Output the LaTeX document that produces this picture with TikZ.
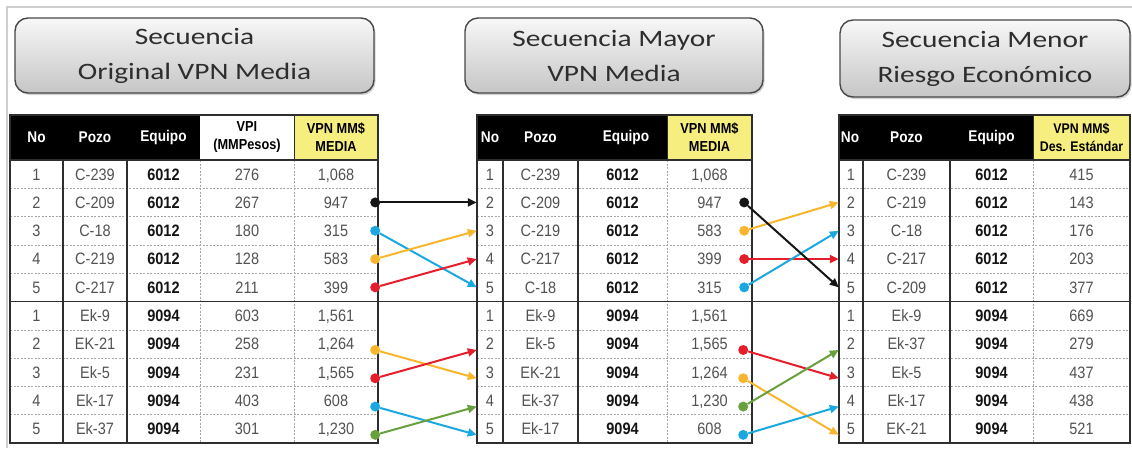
\documentclass[tikz,border=0pt]{standalone}
\usepackage{fontspec}
\setmainfont{Liberation Sans}
\newfontfamily\titlefont[FakeStretch=1.25]{Carlito}
\newfontfamily\datafont[FakeStretch=0.88]{Liberation Sans}
\usetikzlibrary{arrows.meta,calc,shadows}
\definecolor{cyanC}{HTML}{1BA8E0}
\definecolor{orangeC}{HTML}{F8B62C}
\definecolor{redC}{HTML}{E41E2B}
\definecolor{greenC}{HTML}{68A03E}
\definecolor{blackC}{HTML}{151515}
\definecolor{yellowH}{HTML}{F7EE80}
\definecolor{framegray}{HTML}{CFCFCF}
\tikzset{
  titlebox/.style={draw=black!72, line width=1.4pt, rounded corners=13pt,
    top color=gray!6, bottom color=gray!45,
    drop shadow={shadow xshift=1.5pt,shadow yshift=-2pt,opacity=0.35},
    font=\titlefont\fontsize{23.5}{35}\selectfont, text=black!82, align=center, inner sep=0pt},
  dat/.style={inner sep=0pt, minimum height=28.3pt, text height=11.8pt, text depth=0pt,
    font=\datafont\fontsize{16.5}{18}\selectfont, text=black!68},
  datb/.style={dat, font=\datafont\fontsize{16.5}{18}\selectfont\bfseries, text=black!92},
  hw/.style={inner sep=0pt, font=\datafont\fontsize{15.5}{17}\selectfont\bfseries, text=white},
  hb/.style={inner sep=0pt, align=center, font=\datafont\fontsize{14.5}{18}\selectfont\bfseries, text=black},
  tline/.style={line width=1.6pt, draw=black!82},
  dline/.style={line width=0.6pt, draw=black!35, dash pattern=on 2pt off 1.5pt},
  conn/.style={line width=2pt, draw=#1, -{Triangle[length=9pt,width=8pt,fill=#1]}},
  dotn/.style={circle, fill=#1, draw=none, inner sep=0pt, minimum size=10pt}
}
\begin{document}
\begin{tikzpicture}[x=1pt,y=-1pt]
\useasboundingbox (0,0) rectangle (1132,448);
% outer frame
\draw[framegray, line width=1.5pt] (7,448) -- (7,7) -- (1132,7);

% titles
\node[titlebox, minimum width=359pt, minimum height=75pt] (T1) at (194.5,55.5) {Secuencia\\Original VPN Media};
\node[titlebox, minimum width=298pt, minimum height=75pt] (T2) at (614,55.5) {Secuencia Mayor\\VPN Media};
\node[titlebox, minimum width=290pt, minimum height=77pt] (T3) at (985,58.5) {Secuencia Menor\\Riesgo Económico};

% ---------- header fills
\fill[black] (10,115) rectangle (200,160);
\fill[yellowH] (294,115) rectangle (378,160);
\fill[black] (477,115) rectangle (667,160);
\fill[yellowH] (667,115) rectangle (752,160);
\fill[black] (839,115) rectangle (1033,160);
\fill[yellowH] (1033,115) rectangle (1130,160);

% ---------- dashed grid
\foreach \k in {1,2,3,4,6,7,8,9}{
  \pgfmathsetmacro\yy{160+28.3*\k}
  \draw[dline] (10,\yy) -- (378,\yy);
  \draw[dline] (477,\yy) -- (752,\yy);
  \draw[dline] (839,\yy) -- (1130,\yy);
}
\draw[dline] (200,160) -- (200,443);
\draw[dline] (294,160) -- (294,443);
\draw[dline] (667,160) -- (667,443);
\draw[dline] (1033,160) -- (1033,443);

% ---------- solid lines
\draw[line width=1pt, draw=black!82] (294,115) -- (294,160);
\draw[line width=1pt, draw=black!82] (667,115) -- (667,160);
\draw[line width=1pt, draw=black!82] (1033,115) -- (1033,160);
\foreach \xx in {63,127,503,578,863,950}{
  \draw[tline] (\xx,160) -- (\xx,443);
}
\draw[tline] (10,160) -- (378,160);
\draw[tline] (477,160) -- (752,160);
\draw[tline] (839,160) -- (1130,160);
\draw[tline] (10,301.5) -- (1130,301.5);
\draw[tline] (10,115) rectangle (378,443);
\draw[tline] (477,115) rectangle (752,443);
\draw[tline] (839,115) rectangle (1130,443);

% ---------- headers
\node[hw] (hL1) at (36.5,137.5) {No};
\node[hw] (hL2) at (95,137.5) {Pozo};
\node[hw] (hL3) at (163.5,137.5) {Equipo};
\node[hb] (hL4) at (247,137.5) {VPI\\(MMPesos)};
\node[hb] (hL5) at (336,137.5) {VPN MM\$\\MEDIA};
\node[hw] (hM1) at (490,137.5) {No};
\node[hw] (hM2) at (540.5,137.5) {Pozo};
\node[hw] (hM3) at (626,137.5) {Equipo};
\node[hb] (hM4) at (709.5,137.5) {VPN MM\$\\MEDIA};
\node[hw] (hR1) at (850,137.5) {No};
\node[hw] (hR2) at (906.5,137.5) {Pozo};
\node[hw] (hR3) at (991.5,137.5) {Equipo};
\node[hb, font=\datafont\fontsize{14}{18}\selectfont\bfseries] (hR4) at (1081.5,137.5) {VPN MM\$\\Des. Estándar};

% ---------- left table data
\foreach \k/\no/\pz/\eq/\vpi/\vpn in {
  1/1/C-239/6012/276/{1,068}, 2/2/C-209/6012/267/947, 3/3/C-18/6012/180/315,
  4/4/C-219/6012/128/583, 5/5/C-217/6012/211/399,
  6/1/Ek-9/9094/603/{1,561}, 7/2/EK-21/9094/258/{1,264}, 8/3/Ek-5/9094/231/{1,565},
  9/4/Ek-17/9094/403/608, 10/5/Ek-37/9094/301/{1,230}}{
  \pgfmathsetmacro\yy{160+28.3*(\k-0.5)}
  \node[dat, minimum width=53pt] (L-no-\k) at (36.5,\yy) {\no};
  \node[dat, minimum width=64pt] (L-pz-\k) at (95,\yy) {\pz};
  \node[datb, minimum width=73pt] (L-eq-\k) at (163.5,\yy) {\eq};
  \node[dat, minimum width=94pt] (L-vi-\k) at (247,\yy) {\vpi};
  \node[dat, minimum width=84pt] (L-v-\k) at (336,\yy) {\vpn};
}
% ---------- middle table data
\foreach \k/\no/\pz/\eq/\vpn in {
  1/1/C-239/6012/{1,068}, 2/2/C-209/6012/947, 3/3/C-219/6012/583,
  4/4/C-217/6012/399, 5/5/C-18/6012/315,
  6/1/Ek-9/9094/{1,561}, 7/2/Ek-5/9094/{1,565}, 8/3/EK-21/9094/{1,264},
  9/4/Ek-37/9094/{1,230}, 10/5/Ek-17/9094/608}{
  \pgfmathsetmacro\yy{160+28.3*(\k-0.5)}
  \node[dat, minimum width=26pt] (M-no-\k) at (490,\yy) {\no};
  \node[dat, minimum width=75pt] (M-pz-\k) at (540.5,\yy) {\pz};
  \node[datb, minimum width=89pt] (M-eq-\k) at (622.5,\yy) {\eq};
  \node[dat, minimum width=85pt] (M-v-\k) at (709.5,\yy) {\vpn};
}
% ---------- right table data
\foreach \k/\no/\pz/\eq/\vpn in {
  1/1/C-239/6012/415, 2/2/C-219/6012/143, 3/3/C-18/6012/176,
  4/4/C-217/6012/203, 5/5/C-209/6012/377,
  6/1/Ek-9/9094/669, 7/2/Ek-37/9094/279, 8/3/Ek-5/9094/437,
  9/4/Ek-17/9094/438, 10/5/EK-21/9094/521}{
  \pgfmathsetmacro\yy{160+28.3*(\k-0.5)}
  \node[dat, minimum width=24pt] (R-no-\k) at (851,\yy) {\no};
  \node[dat, minimum width=87pt] (R-pz-\k) at (906.5,\yy) {\pz};
  \node[datb, minimum width=83pt] (R-eq-\k) at (991.5,\yy) {\eq};
  \node[dat, minimum width=97pt] (R-v-\k) at (1081.5,\yy) {\vpn};
}

% ---------- connector targets for the lower group
\foreach \k in {6,...,10}{
  \coordinate (Mt-\k) at ([yshift=-6pt]M-no-\k.west);
  \coordinate (Rt-\k) at ([yshift=-6pt]R-no-\k.west);
}

% ---------- dots: left -> middle
\node[dotn=blackC]  (dL2)  at ([xshift=-3pt]L-v-2.east) {};
\node[dotn=cyanC]   (dL3)  at ([xshift=-3pt]L-v-3.east) {};
\node[dotn=orangeC] (dL4)  at ([xshift=-3pt]L-v-4.east) {};
\node[dotn=redC]    (dL5)  at ([xshift=-3pt]L-v-5.east) {};
\node[dotn=orangeC] (dL7)  at ([xshift=-3pt,yshift=-6pt]L-v-7.east) {};
\node[dotn=redC]    (dL8)  at ([xshift=-3pt,yshift=-6pt]L-v-8.east) {};
\node[dotn=cyanC]   (dL9)  at ([xshift=-3pt,yshift=-6pt]L-v-9.east) {};
\node[dotn=greenC]  (dL10) at ([xshift=-3pt,yshift=-6pt]L-v-10.east) {};
% ---------- dots: middle -> right
\node[dotn=blackC]  (dM2)  at ([xshift=-8pt]M-v-2.east) {};
\node[dotn=orangeC] (dM3)  at ([xshift=-8pt]M-v-3.east) {};
\node[dotn=redC]    (dM4)  at ([xshift=-8pt]M-v-4.east) {};
\node[dotn=cyanC]   (dM5)  at ([xshift=-8pt]M-v-5.east) {};
\node[dotn=redC]    (dM7)  at ([xshift=-9pt,yshift=-6pt]M-v-7.east) {};
\node[dotn=orangeC] (dM8)  at ([xshift=-9pt,yshift=-6pt]M-v-8.east) {};
\node[dotn=greenC]  (dM9)  at ([xshift=-9pt,yshift=-6pt]M-v-9.east) {};
\node[dotn=cyanC]   (dM10) at ([xshift=-9pt,yshift=-6pt]M-v-10.east) {};

% ---------- connectors
\draw[conn=blackC]  (dL2) -- (M-no-2.west);
\draw[conn=cyanC]   (dL3) -- (M-no-5.west);
\draw[conn=orangeC] (dL4) -- (M-no-3.west);
\draw[conn=redC]    (dL5) -- (M-no-4.west);
\draw[conn=orangeC] (dL7) -- (Mt-8);
\draw[conn=redC]    (dL8) -- (Mt-7);
\draw[conn=cyanC]   (dL9) -- (Mt-10);
\draw[conn=greenC]  (dL10) -- (Mt-9);

\draw[conn=orangeC] (dM3) -- (R-no-2.west);
\draw[conn=redC]    (dM4) -- (R-no-4.west);
\draw[conn=cyanC]   (dM5) -- (R-no-3.west);
\draw[conn=blackC]  (dM2) -- (R-no-5.west);
\draw[conn=redC]    (dM7) -- (Rt-8);
\draw[conn=orangeC] (dM8) -- (Rt-10);
\draw[conn=greenC]  (dM9) -- (Rt-7);
\draw[conn=cyanC]   (dM10) -- (Rt-9);
\end{tikzpicture}
\end{document}
